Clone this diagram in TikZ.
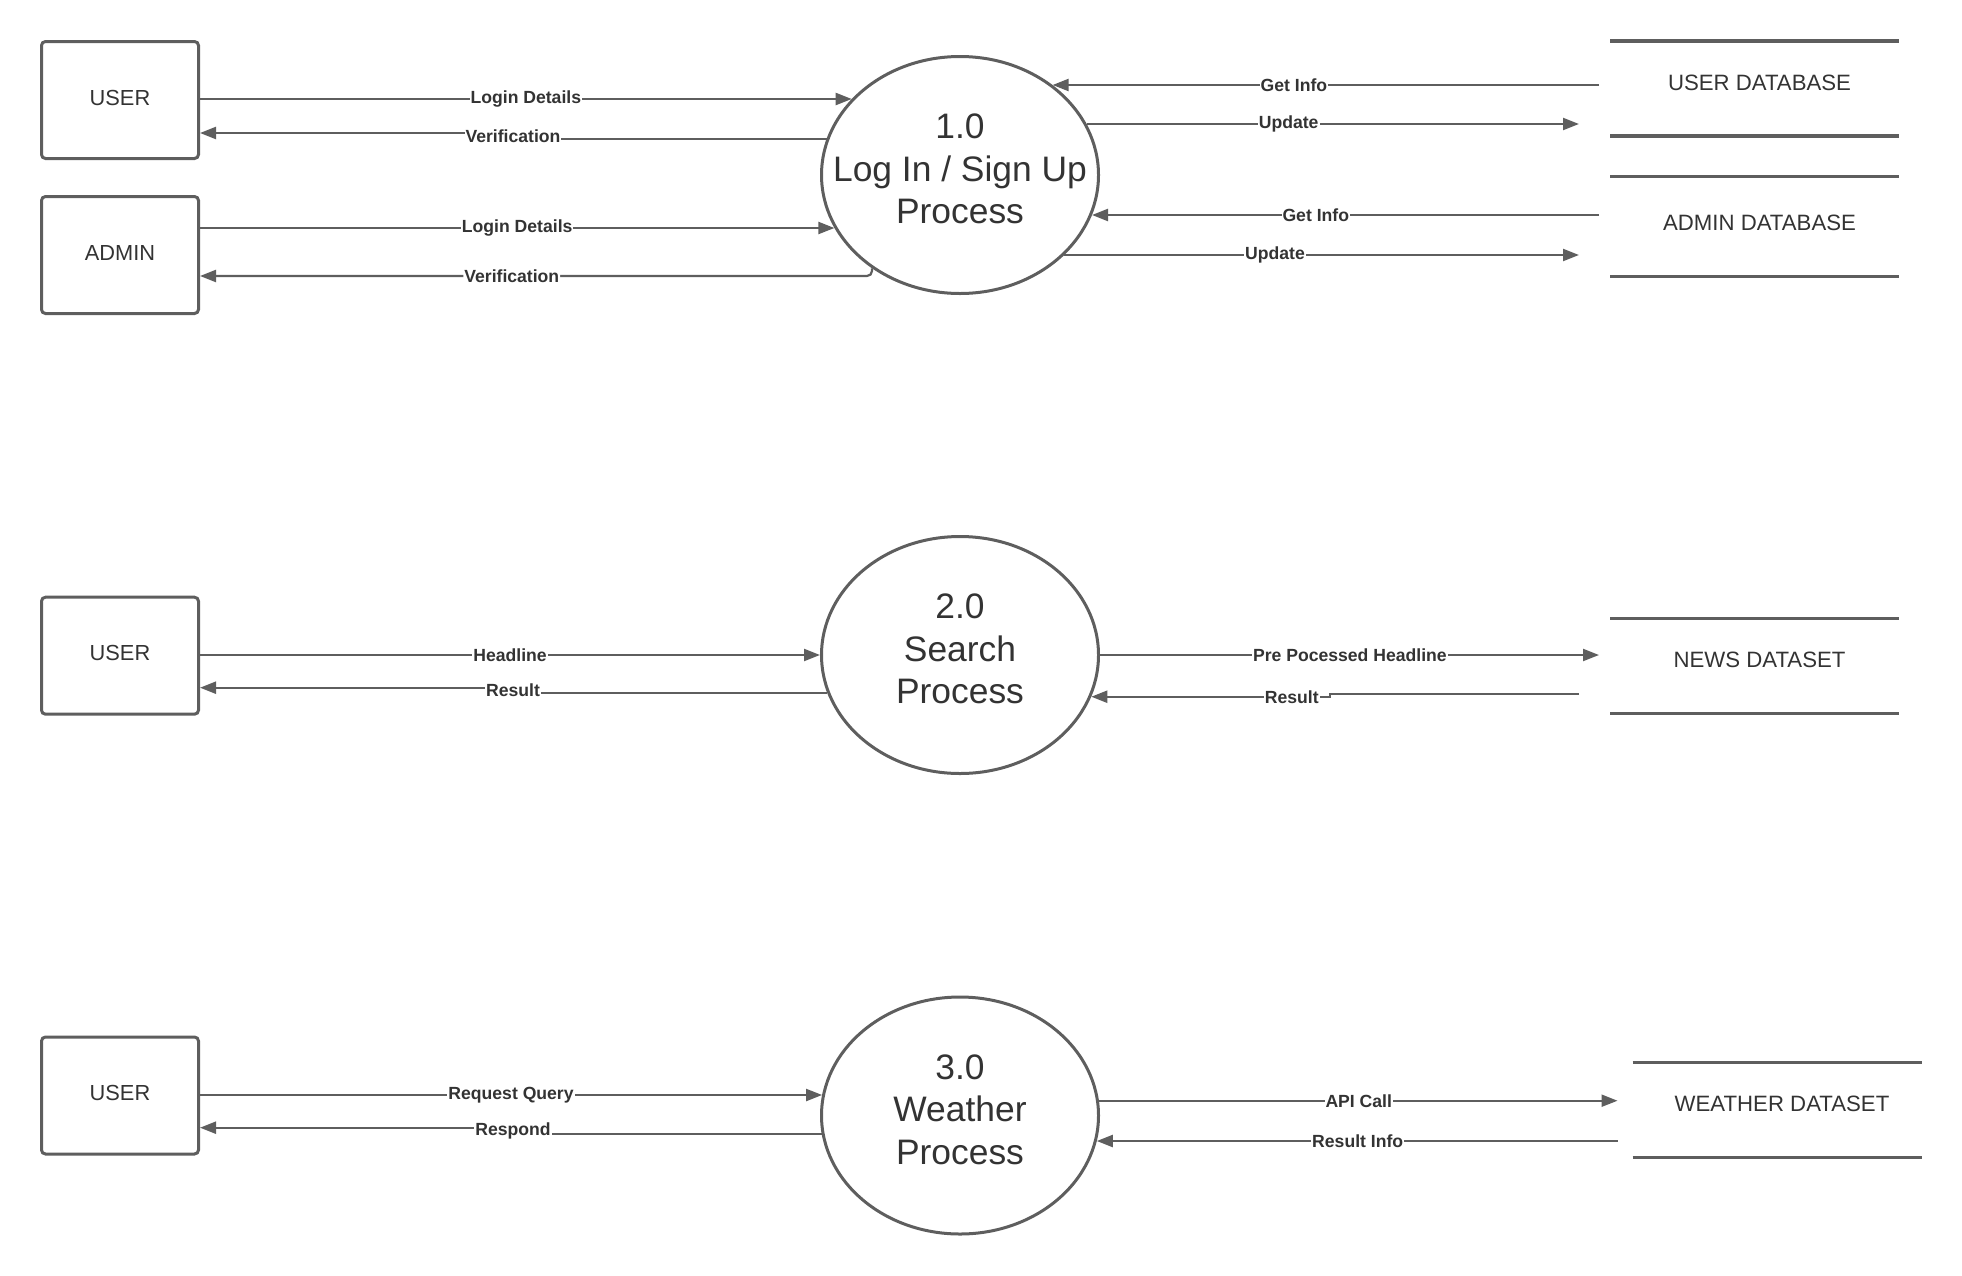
\documentclass[tikz,border=0pt]{standalone}
\usepackage{fontspec}
\setmainfont{Liberation Sans}
\usetikzlibrary{arrows.meta,shapes.geometric,calc}
\definecolor{ink}{HTML}{5E5E5E}
\definecolor{txt}{HTML}{333333}
\begin{document}
\begin{tikzpicture}[x=1pt,y=-1pt,
  entity/.style={draw=ink, line width=3pt, rounded corners=4pt,
    minimum width=157pt, minimum height=117pt, inner sep=0pt,
    text=txt, font=\fontsize{21.8}{26}\selectfont, text depth=5pt},
  proc/.style={ellipse, draw=ink, line width=3pt,
    minimum width=277pt, minimum height=237pt, inner sep=0pt},
  proctext/.style={text=txt, align=center, inner sep=0pt,
    font=\fontsize{35.4}{42.5}\selectfont, yshift=6pt},
  storeline/.style={draw=ink, line width=3.5pt},
  % data store: text box shifted 5pt right of the two bounding lines
  store/.style={minimum width=289pt, minimum height=#1, inner sep=0pt, outer sep=0pt,
    text=txt, font=\fontsize{22.2}{26}\selectfont, text depth=12pt,
    append after command={
      ([xshift=-5pt]\tikzlastnode.north west) edge[storeline] ([xshift=-5pt]\tikzlastnode.north east)
      ([xshift=-5pt]\tikzlastnode.south west) edge[storeline] ([xshift=-5pt]\tikzlastnode.south east)}},
  store/.default=95pt,
  flow/.style={draw=ink, line width=2.2pt, -{Triangle[length=16pt,width=12pt]}},
  lbl/.style={fill=white, text=txt, inner sep=1pt,
    font=\fontsize{17.6}{20}\selectfont\bfseries},
]
\useasboundingbox (0,0) rectangle (1962,1275);

% ---------- 1.0 Log In / Sign Up ----------
\node[entity] (u1) at (120,100) {USER};
\node[entity] (ad) at (120,255) {ADMIN};
\node[proc, label={[proctext]center:{1.0\\Log In / Sign Up\\Process}}] (p1) at (960,175) {};
\node[store] (udb) at (1759.5,88.5) {USER DATABASE};
\node[store=100pt, text depth=7pt] (adb) at (1759.5,226.3) {ADMIN DATABASE};

% points where the flows meet the process border
\coordinate (p1a) at ($(p1)+(-108.3,-76)$);
\coordinate (p1b) at ($(p1)+(-133.5,-36)$);
\coordinate (p1c) at ($(p1)+(-125.6,53)$);
\coordinate (p1d) at ($(p1)+(-88,93.3)$);
\coordinate (p1e) at ($(p1)+(92.6,-90)$);
\coordinate (p1f) at ($(p1)+(126.7,-51)$);
\coordinate (p1g) at ($(p1)+(132,40)$);
\coordinate (p1h) at ($(p1)+(104.4,80)$);

\draw[flow] (u1.east |- p1a) -- node[lbl]{Login Details} (p1a);
\draw[flow] (p1b) -| (513,136) node[lbl]{Verification} |- (u1.east |- 0,133);
\draw[flow] (ad.east |- p1c) -- node[lbl]{Login Details} (p1c);
\draw[flow, rounded corners=5pt] (p1d) |- node[lbl, pos=0.768]{Verification} (ad.east |- 0,276);

\draw[flow, shorten <=11pt] ([xshift=-5pt]udb.west |- p1e) -- node[lbl, pos=0.567]{Get Info} (p1e);
\draw[flow, shorten >=31pt] (p1f) -- node[lbl, pos=0.386]{Update} ([xshift=-5pt]udb.west |- p1f);
\draw[flow, shorten <=11pt] ([xshift=-5pt]adb.west |- p1g) -- node[lbl, pos=0.568]{Get Info} (p1g);
\draw[flow, shorten >=31pt] (p1h) -- node[lbl, pos=0.386]{Update} ([xshift=-5pt]adb.west |- p1h);

% ---------- 2.0 Search ----------
\node[entity] (u2) at (120,655.7) {USER};
\node[proc, label={[proctext]center:{2.0\\Search\\Process}}] (p2) at (960,655) {};
\node[store] (nds) at (1759.5,665.8) {NEWS DATASET};

\coordinate (p2a) at ($(p2)+(-132.7,38.3)$);
\coordinate (p2b) at ($(p2)+(131.3,41.7)$);

\draw[flow] (u2.east |- p2.west) -- node[lbl]{Headline} (p2.west);
\draw[flow] (p2a) -| (513,690.5) node[lbl]{Result} |- (u2.east |- 0,687.7);
\draw[flow, shorten >=11pt] (p2.east) -- node[lbl, pos=0.49]{Pre Pocessed Headline} ([xshift=-5pt]nds.west |- p2.east);
\draw[flow, shorten <=31pt] ([xshift=-5pt]nds.west |- 0,694.3) -- (1330,694.3) |- node[lbl, pos=0.58]{Result} (p2b);

% ---------- 3.0 Weather ----------
\node[entity] (u3) at (120,1095.5) {USER};
\node[proc, label={[proctext]center:{3.0\\Weather\\Process}}] (p3) at (960,1115.5) {};
\node[store] (wds) at (1782,1109.8) {WEATHER DATASET};

\coordinate (p3a) at ($(p3)+(-137.9,-20.5)$);
\coordinate (p3b) at ($(p3)+(-138.3,18.5)$);
\coordinate (p3c) at ($(p3)+(138.9,-14.8)$);
\coordinate (p3d) at ($(p3)+(136.8,25.5)$);

\draw[flow] (u3.east |- p3a) -- node[lbl]{Request Query} (p3a);
\draw[flow] (p3b) -| (513,1131) node[lbl]{Respond} |- (u3.east |- 0,1127.7);
\draw[flow, shorten >=15pt] (p3c) -- node[lbl, pos=0.487]{API Call} ([xshift=-5pt]wds.west |- p3c);
\draw[flow, shorten <=15pt] ([xshift=-5pt]wds.west |- p3d) -- node[lbl, pos=0.513]{Result Info} (p3d);
\end{tikzpicture}
\end{document}
